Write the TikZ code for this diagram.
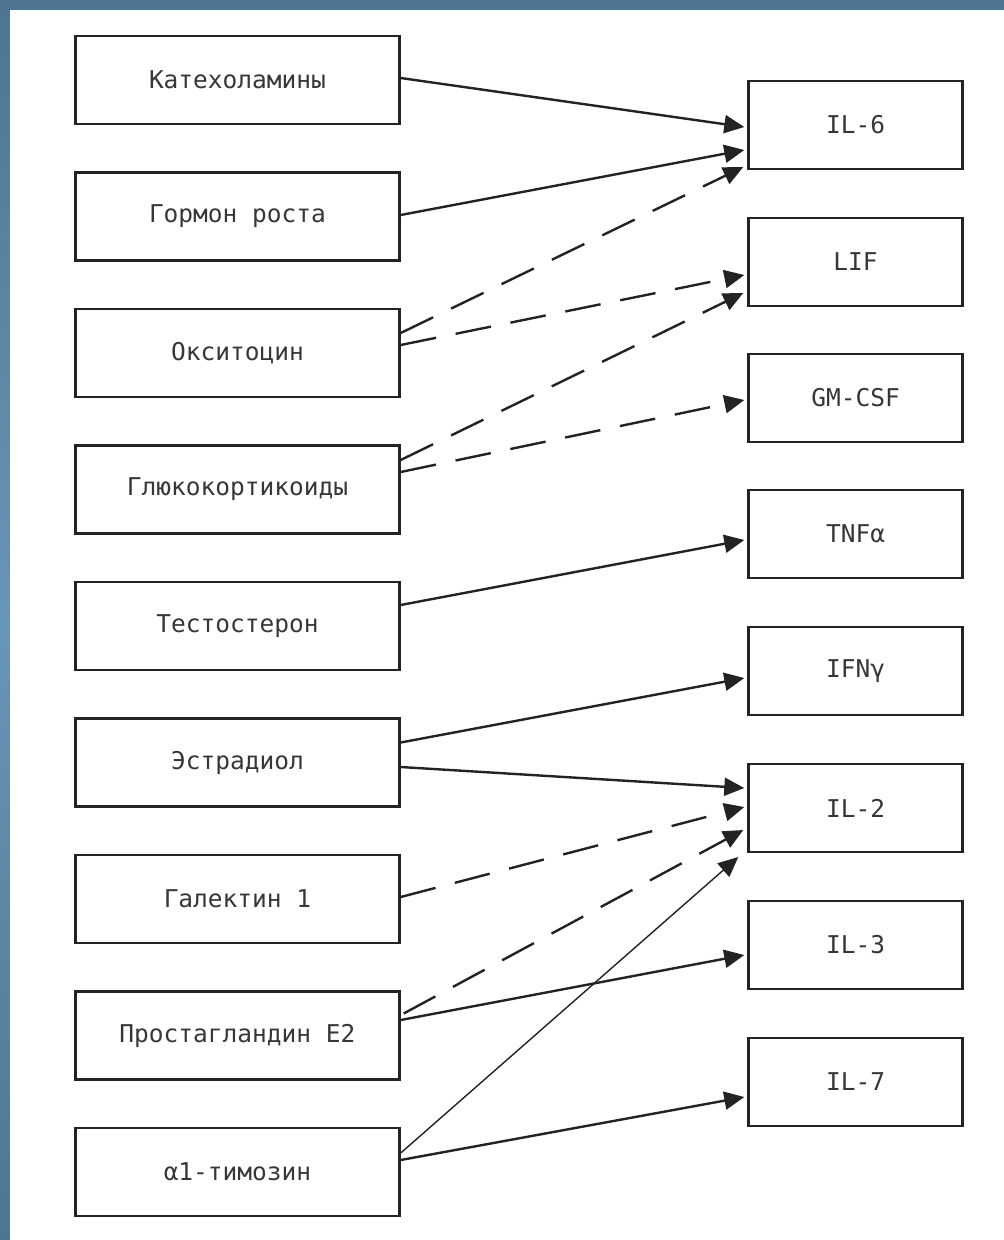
\documentclass[tikz,border=0pt]{standalone}
\usepackage{fontspec}
\setmonofont{DejaVu Sans Mono}
\usetikzlibrary{arrows.meta,calc}
\definecolor{bgblue}{RGB}{78,118,146}
\definecolor{bglight}{RGB}{104,150,182}
\definecolor{ink}{RGB}{35,35,35}
\definecolor{txt}{RGB}{55,55,55}
\begin{document}
\begin{tikzpicture}[x=1pt,y=-1pt,
  box/.style={draw=ink, line width=2.4pt, fill=white, minimum height=88pt, inner sep=0pt,
    font=\ttfamily\fontsize{24.5}{28}\selectfont, text=txt},
  lbox/.style={box, minimum width=324pt},
  rbox/.style={box, minimum width=214pt},
  arr/.style={draw=ink, line width=2.4pt, -{Triangle[length=20pt,width=18pt]}},
  darr/.style={arr, dash pattern=on 36pt off 20pt},
  tarr/.style={arr, line width=1.4pt}]
\useasboundingbox (0,0) rectangle (1004,1240);
\fill[bgblue] (0,0) rectangle (1004,1240);
\shade[top color=bgblue, bottom color=bgblue, middle color=bglight] (0,10) rectangle (10,1240);
\fill[white] (10,10) rectangle (1004,1240);

% left column
\node[lbox] (kat) at (237.5,80) {Катехоламины};
\node[lbox] (gor) at (237.5,216.5) {Гормон роста};
\node[lbox] (oks) at (237.5,353) {Окситоцин};
\node[lbox] (glu) at (237.5,489.5) {Глюкокортикоиды};
\node[lbox] (tes) at (237.5,626) {Тестостерон};
\node[lbox] (est) at (237.5,762.5) {Эстрадиол};
\node[lbox] (gal) at (237.5,899) {Галектин 1};
\node[lbox] (pro) at (237.5,1035.5) {Простагландин E2};
\node[lbox] (tim) at (237.5,1172) {α1-тимозин};

% right column
\node[rbox] (il6) at (855.5,125) {IL-6};
\node[rbox] (lif) at (855.5,262) {LIF};
\node[rbox] (gm) at (855.5,398) {GM-CSF};
\node[rbox] (tnf) at (855.5,534) {TNFα};
\node[rbox] (ifn) at (855.5,671) {IFNγ};
\node[rbox] (il2) at (855.5,808) {IL-2};
\node[rbox] (il3) at (855.5,945) {IL-3};
\node[rbox] (il7) at (855.5,1082) {IL-7};

% connectors
\draw[arr]  ($(kat.east)+(0,-2)$)   -- ($(il6.west)+(-3,2)$);
\draw[arr]  ($(gor.east)+(0,-1.5)$) -- ($(il6.west)+(-3,25)$);
\draw[darr] ($(oks.east)+(0,-20)$)  -- ($(il6.west)+(-4,42)$);
\draw[darr] ($(oks.east)+(0,-8)$)   -- ($(lif.west)+(-3,13)$);
\draw[darr] ($(glu.east)+(0,-29.5)$) -- ($(lif.west)+(-4,31)$);
\draw[darr] ($(glu.east)+(0,-17.5)$) -- ($(gm.west)+(-3,2)$);
\draw[arr]  ($(tes.east)+(0,-21)$)  -- ($(tnf.west)+(-3,6)$);
\draw[arr]  ($(est.east)+(0,-20)$)  -- ($(ifn.west)+(-3,7)$);
\draw[arr]  ($(est.east)+(0,4.5)$)  -- ($(il2.west)+(-3,-20)$);
\draw[darr] ($(gal.east)+(0,-2)$)   -- ($(il2.west)+(-3,-1)$);
\draw[darr] ($(pro.east)+(3,-22)$)  -- ($(il2.west)+(-4,22)$);
\draw[arr]  ($(pro.east)+(0,-15.5)$) -- ($(il3.west)+(-3,10)$);
\draw[tarr] ($(tim.east)+(0,-19)$)  -- ($(il2.west)+(-9,49)$);
\draw[arr]  ($(tim.east)+(0,-12)$)  -- ($(il7.west)+(-3,15)$);
\end{tikzpicture}
\end{document}
